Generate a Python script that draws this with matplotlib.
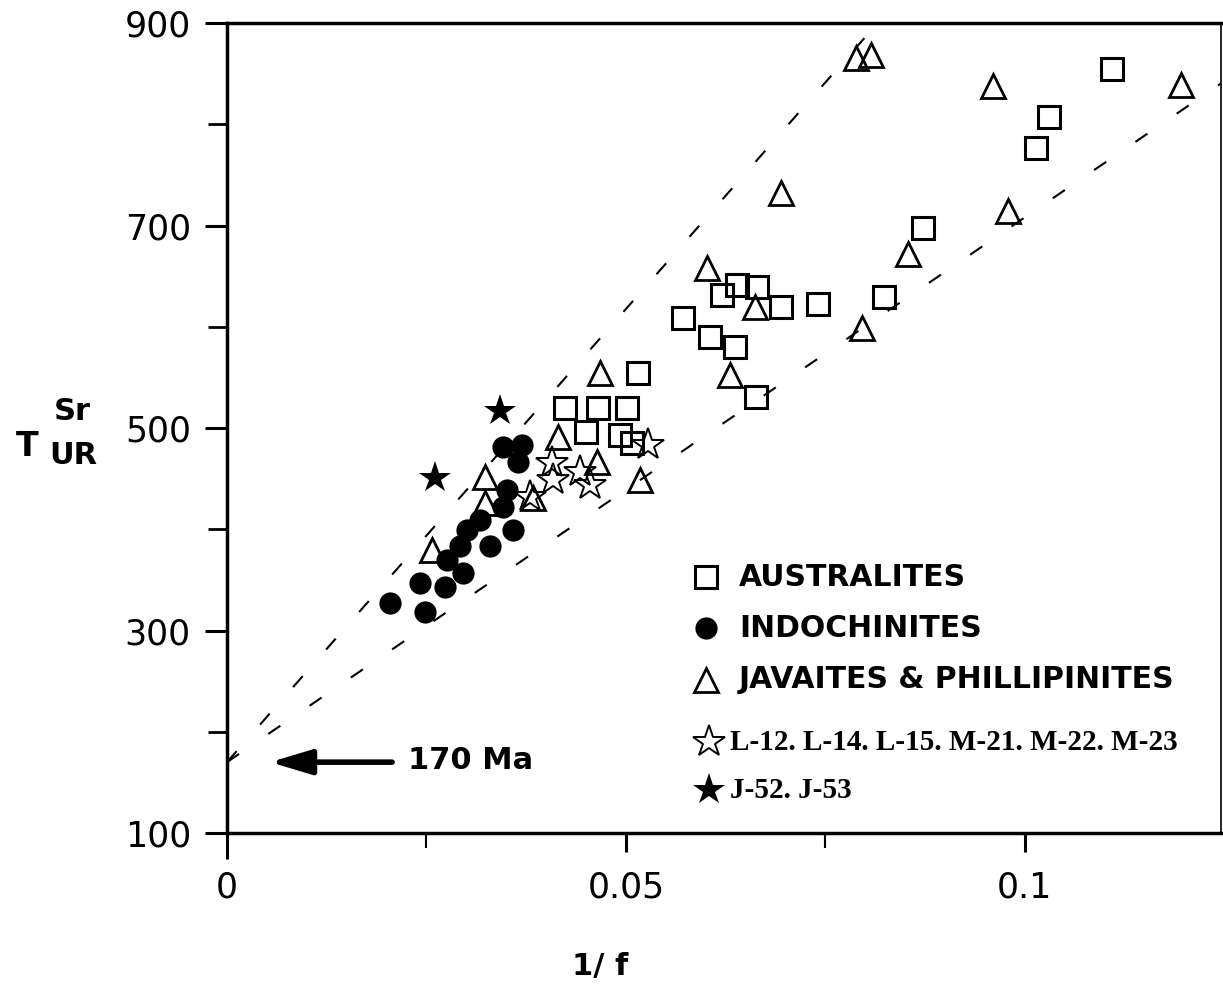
import numpy as np
import matplotlib.pyplot as plt
from matplotlib.ticker import FixedLocator

# Australites (open squares)
aus_x = [0.1109, 0.1030, 0.1014, 0.0872, 0.0823, 0.0741, 0.0695, 0.0664, 0.0639, 0.0620,
         0.0571, 0.0605, 0.0637, 0.0663, 0.0515, 0.0424, 0.0465, 0.0501, 0.0450, 0.0492, 0.0508]
aus_y = [855, 807, 777, 698, 629, 622, 620, 639, 641, 631,
         609, 590, 580, 531, 554, 520, 520, 520, 496, 493, 485]

# Indochinites (filled circles)
ind_x = [0.0204, 0.0248, 0.0242, 0.0273, 0.0296, 0.0276, 0.0292, 0.0301, 0.0330, 0.0358,
         0.0346, 0.0351, 0.0346, 0.0370, 0.0365, 0.0317]
ind_y = [327, 318, 347, 343, 357, 370, 383, 399, 383, 399,
         422, 439, 481, 483, 466, 409]

# Javaites & Phillipinites (open triangles)
jav_x = [0.0789, 0.0807, 0.0960, 0.1196, 0.0695, 0.0979, 0.0853, 0.0796, 0.0602, 0.0662,
         0.0630, 0.0467, 0.0415, 0.0464, 0.0518, 0.0323, 0.0323, 0.0383, 0.0257]
jav_y = [865, 868, 838, 839, 732, 714, 672, 599, 658, 620,
         552, 554, 491, 466, 449, 452, 426, 431, 380]

# L-12, L-14, L-15, M-21, M-22, M-23 (open stars)
lm_x = [0.0528, 0.0407, 0.0442, 0.0455, 0.0409, 0.0380]
lm_y = [483, 465, 457, 444, 449, 432]

# J-52, J-53 (filled stars)
j_x = [0.0342, 0.0261]
j_y = [517, 451]

# reference lines through the 170 Ma intercept
intercept = 170
slopes = [8950, 5380]

legend_labels = ["AUSTRALITES", "INDOCHINITES", "JAVAITES & PHILLIPINITES",
                 "L-12. L-14. L-15. M-21. M-22. M-23", "J-52. J-53"]

fig = plt.figure(figsize=(12.23, 9.91), dpi=100)
ax = fig.add_axes([0.1856, 0.1594, 0.8128, 0.8174])

xl = np.array([0, 0.13])
for s in slopes:
    ax.plot(xl, intercept + s * xl, color='black', lw=1.5, ls=(0, (7, 17)))

sq = dict(marker='s', ms=16.5, mfc='none', mec='black', mew=2.2, ls='none')
ci = dict(marker='o', ms=16, mfc='black', mec='black', mew=0, ls='none')
tr = dict(marker='^', ms=17, mfc='none', mec='black', mew=2.0, ls='none')
so = dict(marker='*', ms=24, mfc='none', mec='black', mew=1.4, ls='none')
sf = dict(marker='*', ms=24, mfc='black', mec='black', mew=0, ls='none')

ax.plot(aus_x, aus_y, **sq)
ax.plot(jav_x, jav_y, **tr)
ax.plot(ind_x, ind_y, **ci)
ax.plot(lm_x, lm_y, **so)
ax.plot(j_x, j_y, **sf)

ax.set_xlim(0, 0.1246)
ax.set_ylim(100, 900)
ax.set_xticks([0, 0.05, 0.1])
ax.set_xticklabels(['0', '0.05', '0.1'])
ax.xaxis.set_minor_locator(FixedLocator([0.025, 0.075]))
ax.set_yticks([100, 300, 500, 700, 900])
ax.yaxis.set_minor_locator(FixedLocator([200, 400, 600, 800]))
ax.tick_params(axis='x', which='major', direction='out', length=14, width=2.2, pad=13, labelsize=25)
ax.tick_params(axis='x', which='minor', direction='out', length=11, width=1.5)
ax.tick_params(axis='y', which='major', direction='out', length=16, width=2.2, pad=10, labelsize=25)
ax.tick_params(axis='y', which='minor', direction='out', length=14, width=2)
ax.xaxis.get_major_ticks()[0].tick1line.set_markersize(19)
for side in ['left', 'bottom', 'top']:
    ax.spines[side].set_linewidth(2.5)
ax.spines['right'].set_linewidth(1.2)

# legend drawn by hand
rows = [0.316, 0.253, 0.189, 0.112, 0.053]
styles = [sq, ci, tr, so, sf]
for i, (lab, st) in enumerate(zip(legend_labels, styles)):
    mx = 0.482 if i < 3 else 0.485
    ax.plot([mx], [rows[i]], transform=ax.transAxes, clip_on=False, **st)
    if i < 3:
        ax.text(0.515, rows[i], lab, transform=ax.transAxes, ha='left', va='center',
                fontsize=21.5, fontweight='bold', family='DejaVu Sans')
    else:
        ax.text(0.506, rows[i], lab, transform=ax.transAxes, ha='left', va='center',
                fontsize=21, fontweight='bold', family='Liberation Serif')

# 170 Ma arrow
ax.annotate('', xy=(0.0054, intercept), xytext=(0.0207, intercept),
            arrowprops=dict(arrowstyle='-|>,head_length=2.5,head_width=0.75',
                            lw=4, color='black', mutation_scale=10, shrinkA=0, shrinkB=0))
ax.text(0.182, 0.090, '170 Ma', transform=ax.transAxes, ha='left', va='center',
        fontsize=22, fontweight='bold')

# axis labels
fig.text(27 / 1223, 1 - 447 / 991, 'T', ha='center', va='center', fontsize=24, fontweight='bold')
fig.text(72 / 1223, 1 - 412 / 991, 'Sr', ha='center', va='center', fontsize=22, fontweight='bold')
fig.text(73 / 1223, 1 - 456 / 991, 'UR', ha='center', va='center', fontsize=22, fontweight='bold')
fig.text(600 / 1223, 1 - 967 / 991, '1/ f', ha='center', va='center', fontsize=22, fontweight='bold')

fig.savefig('out.png', dpi=100)
